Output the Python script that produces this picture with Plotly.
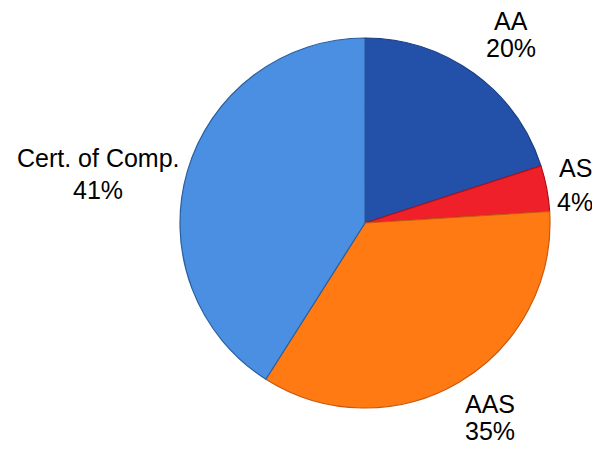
import plotly.graph_objects as go

labels = ["AA", "AS", "AAS", "Cert. of Comp."]
values = [20, 4, 35, 41]
colors = ["#2350A8", "#F0202A", "#FF7A12", "#4A8FE2"]
line_colors = ["#1A3C80", "#B01018", "#C85A10", "#2A5E9E"]

# the page body adds an 8px margin around the figure
OFF = 8
W, H = 600 - 2 * OFF, 454 - 2 * OFF

# (x, y of name line, y of percent line) in page pixels
label_pos = [(511, 21, 48), (575, 168, 202), (490, 404, 431), (98, 158, 190)]

fig = go.Figure(go.Pie(
    labels=labels, values=values, sort=False, direction="clockwise", rotation=0,
    marker=dict(colors=colors, line=dict(color=line_colors, width=1.2)),
    textinfo="none", hoverinfo="label+percent", showlegend=False,
    domain=dict(x=[(180 - OFF) / W, (550 - OFF) / W],
                y=[1 - (408 - OFF) / H, 1 - (38 - OFF) / H]),
))

total = sum(values)
font = dict(family="Liberation Sans, Arial", size=25, color="#000000")
for lab, v, (px, py1, py2) in zip(labels, values, label_pos):
    for txt, py in ((lab, py1), (f"{round(100 * v / total)}%", py2)):
        fig.add_annotation(
            x=(px - OFF) / W, y=1 - (py - OFF) / H, xref="paper", yref="paper",
            text=txt, showarrow=False, font=font,
            xanchor="center", yanchor="middle",
        )

fig.update_layout(
    width=W, height=H, margin=dict(l=0, r=0, t=0, b=0),
    paper_bgcolor="white", plot_bgcolor="white",
)
fig.write_html("out.html")
